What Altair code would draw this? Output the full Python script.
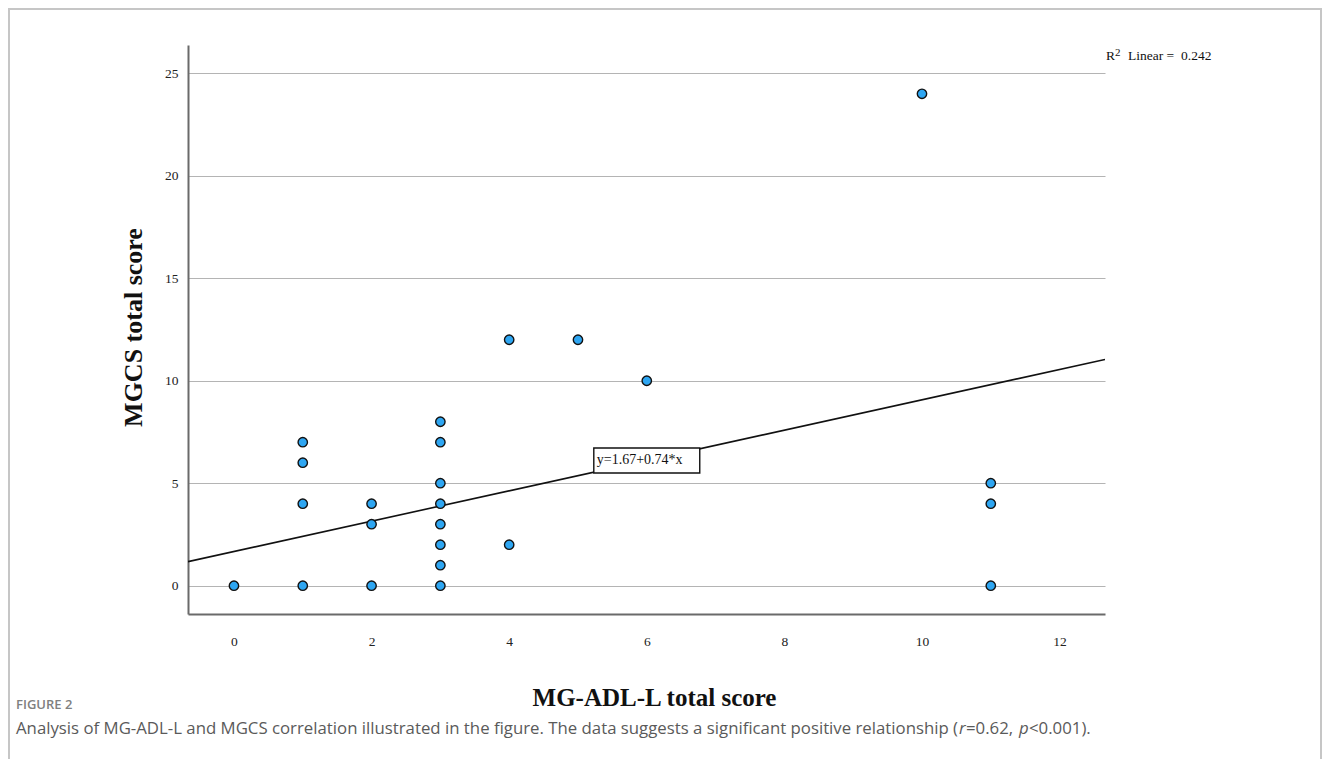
import altair as alt
import pandas as pd

# ---- data ----
x_vals = [0, 1, 1, 1, 1, 2, 2, 2, 3, 3, 3, 3, 3, 3, 3, 3, 4, 4, 5, 6, 10, 11, 11, 11]
y_vals = [0, 0, 4, 6, 7, 0, 3, 4, 0, 1, 2, 3, 4, 5, 7, 8, 2, 12, 12, 10, 24, 0, 4, 5]
intercept = 1.67
slope = 0.74
r2_value = 0.242
x_domain = [-0.668, 12.66]
y_domain = [-1.38, 26.38]
x_ticks = [0, 2, 4, 6, 8, 10, 12]
y_ticks = [0, 5, 10, 15, 20, 25]
label_at_x = [6]

x_title = "MG-ADL-L total score"
y_title = "MGCS total score"

W, H = 917, 569
PAD = {"left": 180, "top": 37, "right": 217, "bottom": 145}
SERIF = "Liberation Serif"
SANS = "Open Sans"

pts = pd.DataFrame({"x": x_vals, "y": y_vals})
line_df = pd.DataFrame({"x": x_domain})
lab_df = pd.DataFrame({"x": label_at_x})

xs = alt.Scale(domain=x_domain, nice=False, zero=False)
ys = alt.Scale(domain=y_domain, nice=False, zero=False)

x_axis = alt.Axis(values=x_ticks, format="d", grid=False, ticks=False, domainColor="#6a6a6a", domainWidth=2,
                  labelFont=SERIF, labelFontSize=13.5, labelColor="#222", labelPadding=20,
                  title=x_title, titleFont=SERIF, titleFontSize=25, titleFontWeight="bold",
                  titleColor="#111", titleX=466, titleY=83, titleBaseline="middle", titleAlign="center")
y_axis = alt.Axis(values=y_ticks, format="d", grid=True, gridColor="#b4b4b4", gridWidth=1.2, ticks=False,
                  domainColor="#6a6a6a", domainWidth=2,
                  labelFont=SERIF, labelFontSize=13.5, labelColor="#222", labelPadding=10,
                  title=y_title, titleFont=SERIF, titleFontSize=26, titleFontWeight="bold",
                  titleColor="#111", titleX=-55, titleY=282, titleAngle=270,
                  titleBaseline="middle", titleAlign="center")

points = alt.Chart(pts).mark_point(filled=True, shape="circle", size=88, fill="#2ea6f2",
                                   stroke="#111", strokeWidth=1.4, opacity=1).encode(
    x=alt.X("x:Q", scale=xs, axis=x_axis),
    y=alt.Y("y:Q", scale=ys, axis=y_axis),
)

fit = alt.Chart(line_df).transform_calculate(
    yhat=f"{intercept} + {slope} * datum.x"
).mark_line(color="#111", strokeWidth=1.6, clip=True).encode(
    x=alt.X("x:Q", scale=xs),
    y=alt.Y("yhat:Q", scale=ys),
)

box = alt.Chart(lab_df).transform_calculate(
    yc=f"{intercept} + {slope} * datum.x",
    x1="datum.x - 0.77", x2="datum.x + 0.77",
    y1="datum.yc - 0.61", y2="datum.yc + 0.61",
).mark_rect(fill="white", stroke="#111", strokeWidth=1.4).encode(
    x=alt.X("x1:Q", scale=xs), x2="x2:Q",
    y=alt.Y("y1:Q", scale=ys), y2="y2:Q",
)

box_text = alt.Chart(lab_df).transform_calculate(
    yc=f"{intercept} + {slope} * datum.x",
    xl="datum.x - 0.77",
    txt=f"'y={intercept}+{slope}*x'",
).mark_text(align="left", baseline="middle", dx=3, font=SERIF, fontSize=14, color="#111").encode(
    x=alt.X("xl:Q", scale=xs),
    y=alt.Y("yc:Q", scale=ys),
    text="txt:N",
)

# figure frame
frame = alt.Chart(pd.DataFrame({"a": [0]})).mark_rect(fill=None, stroke="#c6c6c6", strokeWidth=2).encode(
    x=alt.value(-179), x2=alt.value(W + PAD["right"] - 1),
    y=alt.value(-36), y2=alt.value(H + PAD["bottom"] + 20),
)


def txt(s, x, y, size, font=SERIF, color="#111", weight="normal", style="normal", align="left", dy=0):
    return alt.Chart(pd.DataFrame({"t": [s]})).mark_text(
        align=align, baseline="middle", font=font, fontSize=size, color=color,
        fontWeight=weight, fontStyle=style, dy=dy,
    ).encode(x=alt.value(x), y=alt.value(y), text="t:N")


r2_layers = [
    txt("R", 918, 11, 13.5),
    txt("2", 927, 11, 11, dy=-3),
    txt("Linear =", 940, 11, 13.5),
    txt(f"{r2_value}", 993, 11, 13.5),
]

CAP_COLOR = "#5a5a5a"
CAP_Y = 684
CAP_SIZE = 16.8
caption_layers = [
    txt("FIGURE 2", -172, 660, 13, font=SANS, color="#808080", weight=600),
    txt("Analysis of MG-ADL-L and MGCS correlation illustrated in the figure. The data suggests a significant positive relationship (",
        -172, CAP_Y, CAP_SIZE, font=SANS, color=CAP_COLOR),
    txt("r", 771, CAP_Y, CAP_SIZE, font=SANS, color=CAP_COLOR, style="italic"),
    txt("=0.62,", 778, CAP_Y, CAP_SIZE, font=SANS, color=CAP_COLOR),
    txt("p", 831, CAP_Y, CAP_SIZE, font=SANS, color=CAP_COLOR, style="italic"),
    txt("<0.001).", 841, CAP_Y, CAP_SIZE, font=SANS, color=CAP_COLOR),
]

chart = alt.layer(frame, fit, box, box_text, points, *r2_layers, *caption_layers).properties(
    width=W, height=H, padding=PAD, autosize=alt.AutoSizeParams(type="none"),
    background="white",
).configure_view(stroke=None)

chart.save("out.html", embed_options={"renderer": "svg", "actions": False})
